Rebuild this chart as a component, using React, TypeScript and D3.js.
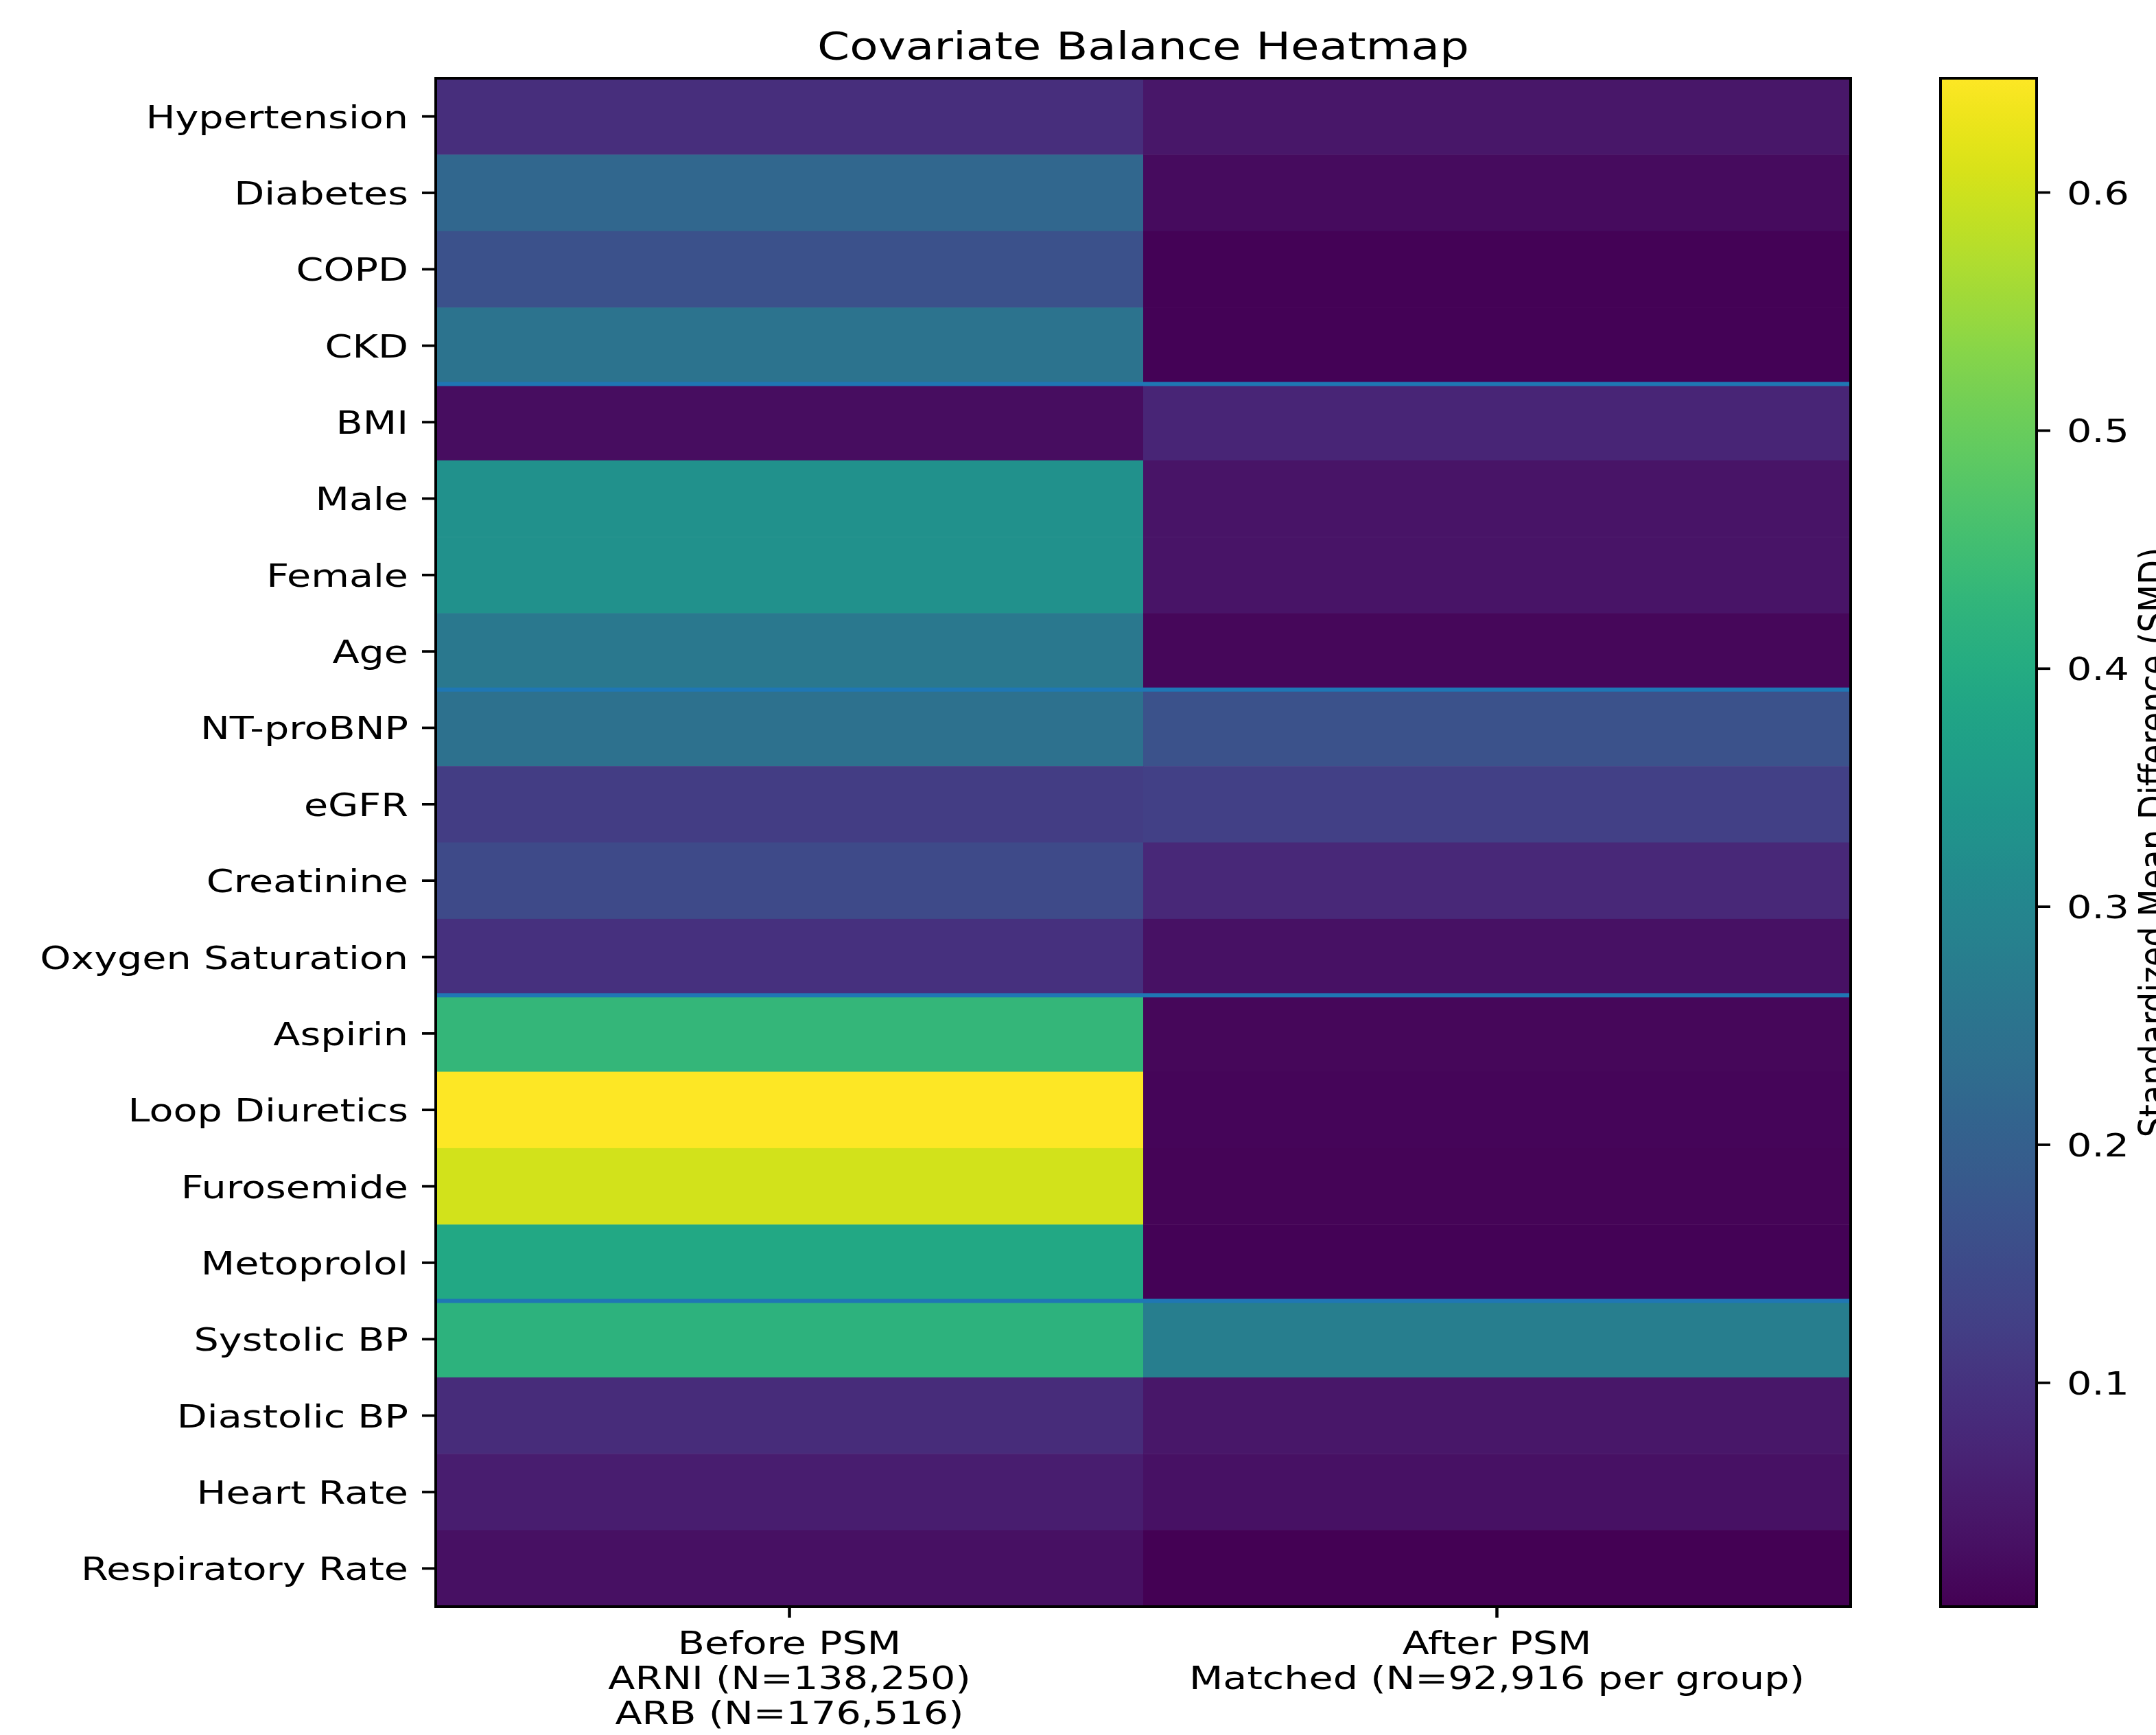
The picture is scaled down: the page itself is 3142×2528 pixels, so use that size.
import React from "react";
import * as d3 from "d3";

const covariates = [
  "Hypertension", "Diabetes", "COPD", "CKD",
  "BMI", "Male", "Female", "Age",
  "NT-proBNP", "eGFR", "Creatinine", "Oxygen Saturation",
  "Aspirin", "Loop Diuretics", "Furosemide", "Metoprolol",
  "Systolic BP", "Diastolic BP", "Heart Rate", "Respiratory Rate",
];
const columns = ["Before PSM", "After PSM"];
const columnLabels = [
  ["Before PSM", "ARNI (N=138,250)", "ARB (N=176,516)"],
  ["After PSM", "Matched (N=92,916 per group)"],
];
const smdBefore = [
  0.09, 0.217, 0.166, 0.25,
  0.028, 0.327, 0.327, 0.262,
  0.242, 0.12, 0.15, 0.096,
  0.43, 0.648, 0.603, 0.391,
  0.418, 0.085, 0.057, 0.033,
];
const smdAfter = [
  0.045, 0.025, 0.01, 0.01,
  0.072, 0.04, 0.04, 0.017,
  0.168, 0.128, 0.078, 0.034,
  0.018, 0.015, 0.012, 0.009,
  0.278, 0.045, 0.035, 0.006,
];
const groupBreaks = [4, 8, 12, 16];
const cbTicks = [0.1, 0.2, 0.3, 0.4, 0.5, 0.6];
const title = "Covariate Balance Heatmap";
const cbLabel = "Standardized Mean Difference (SMD)";

const W = 3142, H = 2528;
const L = 635, R = 2697, T = 114, B = 2341;
const CBL = 2828, CBR = 2968;
const SX = 1.23;
const FONT = "DejaVu Sans, sans-serif";

function ST({ x, y, size, anchor, children, rotate }: any) {
  return (
    <text
      transform={`translate(${x},${y}) scale(${SX},1)${rotate ? ` rotate(${rotate})` : ""}`}
      fontSize={size}
      fontFamily={FONT}
      textAnchor={anchor}
      fill="#000"
    >
      {children}
    </text>
  );
}

export default function App() {
  const values = [smdBefore, smdAfter];
  const all = [...smdBefore, ...smdAfter];
  const vmin = d3.min(all)!;
  const vmax = d3.max(all)!;
  const color = d3.scaleSequential(d3.interpolateViridis).domain([vmin, vmax]);
  const y = d3.scaleBand<string>().domain(covariates).range([T, B]);
  const x = d3.scaleBand<string>().domain(columns).range([L, R]);
  const cbY = d3.scaleLinear().domain([vmin, vmax]).range([B, T]);
  const stops = d3.range(0, 1.0001, 0.02);

  return (
    <svg width={W} height={H} style={{ position: "absolute", left: 0, top: 0, background: "#fff" }}>
      <defs>
        <linearGradient id="vir" x1="0" y1="1" x2="0" y2="0">
          {stops.map((s, i) => (
            <stop key={i} offset={s} stopColor={d3.interpolateViridis(s)} />
          ))}
        </linearGradient>
      </defs>
      <rect x={0} y={0} width={W} height={H} fill="#fff" />
      <ST x={(L + R) / 2} y={86} size={55} anchor="middle">{title}</ST>

      {columns.map((c, ci) =>
        covariates.map((cov, ri) => (
          <rect
            key={c + cov}
            x={x(c)!}
            y={y(cov)!}
            width={x.bandwidth() + 0.5}
            height={y.bandwidth() + 0.5}
            fill={color(values[ci][ri])}
          />
        ))
      )}

      {groupBreaks.map((b) => (
        <line key={b} x1={L} x2={R} y1={T + b * y.step()} y2={T + b * y.step()} stroke="#1f77b4" strokeWidth={6} />
      ))}

      <rect x={L} y={T} width={R - L} height={B - T} fill="none" stroke="#000" strokeWidth={4} />

      {covariates.map((cov) => {
        const cy = y(cov)! + y.bandwidth() / 2;
        return (
          <g key={cov}>
            <line x1={L - 20} x2={L} y1={cy} y2={cy} stroke="#000" strokeWidth={3.7} />
            <ST x={595} y={cy + 17} size={46.5} anchor="end">{cov}</ST>
          </g>
        );
      })}

      {columns.map((c, ci) => {
        const cx = x(c)! + x.bandwidth() / 2;
        return (
          <g key={c}>
            <line x1={cx} x2={cx} y1={B} y2={B + 16} stroke="#000" strokeWidth={4.5} />
            {columnLabels[ci].map((t, li) => (
              <ST key={li} x={cx} y={2410 + li * 51} size={46.5} anchor="middle">{t}</ST>
            ))}
          </g>
        );
      })}

      <rect x={CBL} y={T} width={CBR - CBL} height={B - T} fill="url(#vir)" />
      <rect x={CBL} y={T} width={CBR - CBL} height={B - T} fill="none" stroke="#000" strokeWidth={4} />
      {cbTicks.map((t) => (
        <g key={t}>
          <line x1={CBR} x2={CBR + 20} y1={cbY(t)} y2={cbY(t)} stroke="#000" strokeWidth={3.7} />
          <ST x={3012} y={cbY(t) + 17} size={46.5} anchor="start">{t.toFixed(1)}</ST>
        </g>
      ))}
      <ST x={3158} y={(T + B) / 2} size={46.5} anchor="middle" rotate={-90}>{cbLabel}</ST>
    </svg>
  );
}
